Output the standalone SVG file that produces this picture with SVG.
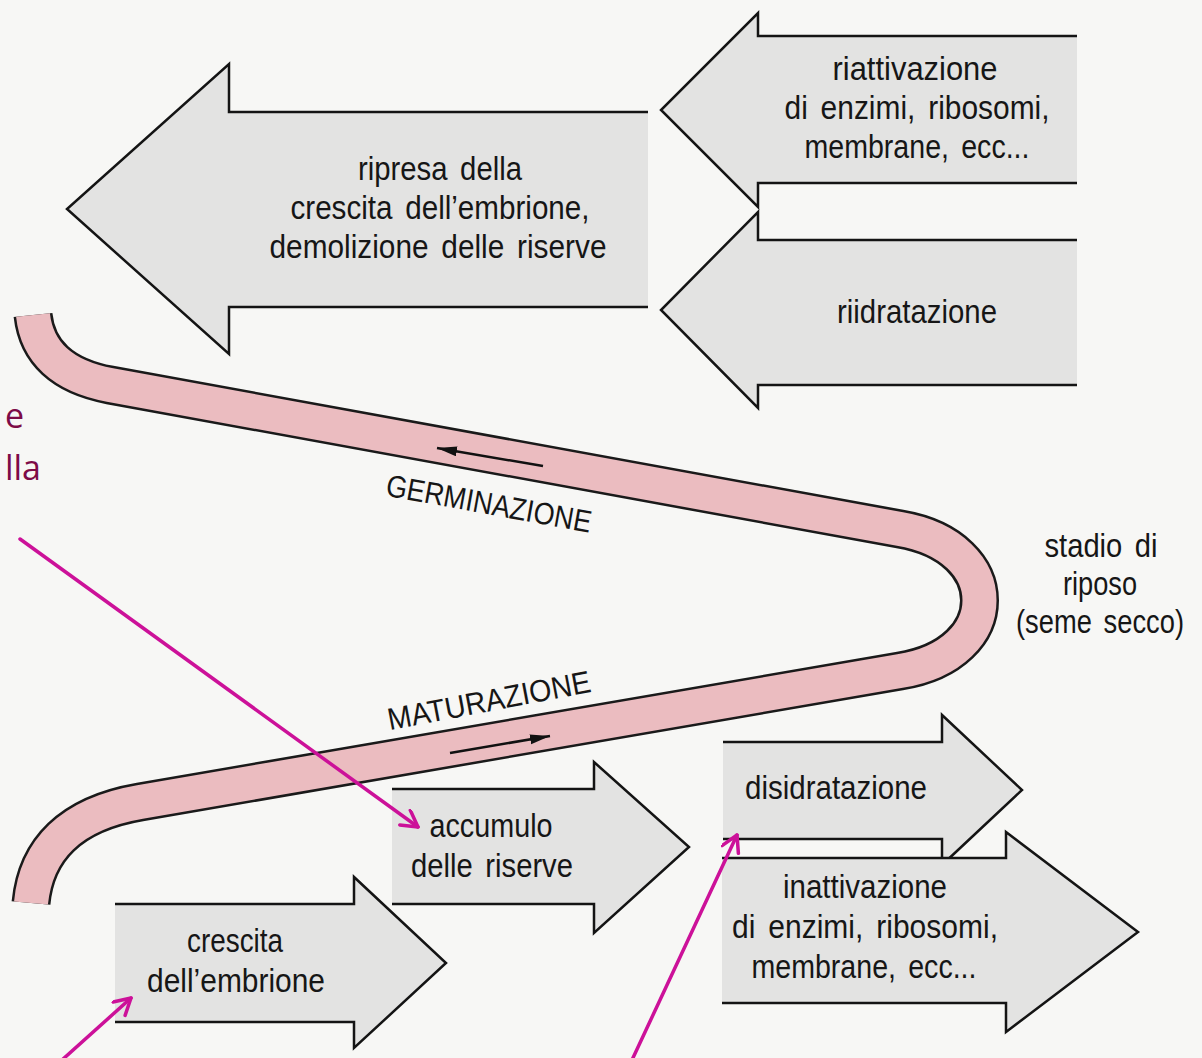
<svg xmlns="http://www.w3.org/2000/svg" width="1202" height="1058" viewBox="0 0 1202 1058">
<defs>
<style>
.box{fill:#e3e3e2;stroke:none}
.edge{fill:none;stroke:#141414;stroke-width:2.5;stroke-linejoin:miter}
.lbl{font-family:"Liberation Sans",Arial,sans-serif;font-size:33px;fill:#161616;word-spacing:5px;text-anchor:middle}
.cap{font-family:"Liberation Sans",Arial,sans-serif;font-size:31px;fill:#161616;text-anchor:middle}
.side{font-family:"Open Sans","Noto Sans",sans-serif;font-size:34px;fill:#7d0b47;text-anchor:end}
.mag{fill:none;stroke:#cc1199;stroke-width:3.5;stroke-linecap:round}
.band-out{fill:none;stroke:#1a1a1a;stroke-width:39;stroke-linecap:butt;stroke-linejoin:round}
.band-in{fill:none;stroke:#ebbcc0;stroke-width:34;stroke-linecap:butt;stroke-linejoin:round}
.dir{fill:none;stroke:#111;stroke-width:2.5}
</style>
<marker id="tri" markerUnits="userSpaceOnUse" markerWidth="22" markerHeight="12" refX="20" refY="5" orient="auto">
<path d="M0,0 L20,5 L0,10 z" fill="#111"/>
</marker>
<marker id="vee" markerUnits="userSpaceOnUse" markerWidth="24" markerHeight="24" refX="18" refY="10" orient="auto">
<path d="M2,1 L18,10 L2,19" fill="none" stroke="#cc1199" stroke-width="3.5" stroke-linecap="round" stroke-linejoin="round"/>
</marker>
</defs>
<rect width="1202" height="1058" fill="#f7f7f5"/>

<g id="cycle">
<path class="band-out" d="M33,315 C37,352 62,376 110,385 L900,529 C1006,547 1006,654 900,671 L140,802 C70,814 36,850 31,903"/>
<path class="band-in" d="M33,315 C37,352 62,376 110,385 L900,529 C1006,547 1006,654 900,671 L140,802 C70,814 36,850 31,903"/>
<line class="dir" x1="543" y1="466" x2="437" y2="448" marker-end="url(#tri)"/>
<line class="dir" x1="450" y1="753" x2="550" y2="736" marker-end="url(#tri)"/>
<text class="cap" x="487" y="514" transform="rotate(10.3 487 514)" textLength="208" lengthAdjust="spacingAndGlyphs">GERMINAZIONE</text>
<text class="cap" x="491" y="711" transform="rotate(-10.8 491 711)" textLength="206" lengthAdjust="spacingAndGlyphs">MATURAZIONE</text>
</g>

<g id="ripresa">
<polygon class="box" points="648,112 229,112 229,64 67,209 229,354 229,307 648,307"/>
<path class="edge" d="M648,112 H229 V64 L67,209 L229,354 V307 H648"/>
<text class="lbl" x="440" y="180" textLength="164" lengthAdjust="spacingAndGlyphs">ripresa della</text>
<text class="lbl" x="440" y="219" textLength="299" lengthAdjust="spacingAndGlyphs">crescita dell’embrione,</text>
<text class="lbl" x="438" y="258" textLength="337" lengthAdjust="spacingAndGlyphs">demolizione delle riserve</text>
</g>

<g id="riattivazione">
<polygon class="box" points="1077,36 758,36 758,13 661,110 758,207 758,183 1077,183"/>
<path class="edge" d="M1077,36 H758 V13 L661,110 L758,207 V183 H1077"/>
<text class="lbl" x="915" y="80" textLength="165" lengthAdjust="spacingAndGlyphs">riattivazione</text>
<text class="lbl" x="917" y="119" textLength="265" lengthAdjust="spacingAndGlyphs">di enzimi, ribosomi,</text>
<text class="lbl" x="917" y="158" textLength="225" lengthAdjust="spacingAndGlyphs">membrane, ecc...</text>
</g>

<g id="riidratazione">
<polygon class="box" points="1077,240 758,240 758,212 661,310 758,408 758,385 1077,385"/>
<path class="edge" d="M1077,240 H758 V212 L661,310 L758,408 V385 H1077"/>
<text class="lbl" x="917" y="323" textLength="160" lengthAdjust="spacingAndGlyphs">riidratazione</text>
</g>

<g id="riposo">
<text class="lbl" x="1101" y="557" textLength="113" lengthAdjust="spacingAndGlyphs">stadio di</text>
<text class="lbl" x="1100" y="595" textLength="74" lengthAdjust="spacingAndGlyphs">riposo</text>
<text class="lbl" x="1100" y="633" textLength="168" lengthAdjust="spacingAndGlyphs">(seme secco)</text>
</g>

<g id="disidratazione">
<polygon class="box" points="723,742 942,742 942,715 1022,790 942,865 942,839 723,839"/>
<path class="edge" d="M723,742 H942 V715 L1022,790 L942,865 V839 H723"/>
<text class="lbl" x="836" y="799" textLength="182" lengthAdjust="spacingAndGlyphs">disidratazione</text>
</g>

<g id="inattivazione">
<polygon class="box" points="722,858 1006,858 1006,832 1138,932 1006,1032 1006,1003 722,1003"/>
<path class="edge" d="M722,858 H1006 V832 L1138,932 L1006,1032 V1003 H722"/>
<text class="lbl" x="865" y="898" textLength="164" lengthAdjust="spacingAndGlyphs">inattivazione</text>
<text class="lbl" x="865" y="938" textLength="266" lengthAdjust="spacingAndGlyphs">di enzimi, ribosomi,</text>
<text class="lbl" x="864" y="978" textLength="225" lengthAdjust="spacingAndGlyphs">membrane, ecc...</text>
</g>

<g id="accumulo">
<polygon class="box" points="392,789 594,789 594,762 689,847 594,933 594,904 392,904"/>
<path class="edge" d="M392,789 H594 V762 L689,847 L594,933 V904 H392"/>
<text class="lbl" x="491" y="837" textLength="123" lengthAdjust="spacingAndGlyphs">accumulo</text>
<text class="lbl" x="492" y="877" textLength="162" lengthAdjust="spacingAndGlyphs">delle riserve</text>
</g>

<g id="crescita">
<polygon class="box" points="115,904 354,904 354,877 446,963 354,1048 354,1022 115,1022"/>
<path class="edge" d="M115,904 H354 V877 L446,963 L354,1048 V1022 H115"/>
<text class="lbl" x="235" y="952" textLength="96" lengthAdjust="spacingAndGlyphs">crescita</text>
<text class="lbl" x="236" y="992" textLength="178" lengthAdjust="spacingAndGlyphs">dell’embrione</text>
</g>

<g id="side-text">
<text class="side" x="24" y="428">e</text>
<text class="side" x="41" y="480">lla</text>
</g>

<g id="connectors">
<line class="mag" x1="20" y1="539" x2="418" y2="827" marker-end="url(#vee)"/>
<line class="mag" x1="62" y1="1060" x2="131" y2="998" marker-end="url(#vee)"/>
<line class="mag" x1="632" y1="1060" x2="737" y2="835" marker-end="url(#vee)"/>
</g>
</svg>
